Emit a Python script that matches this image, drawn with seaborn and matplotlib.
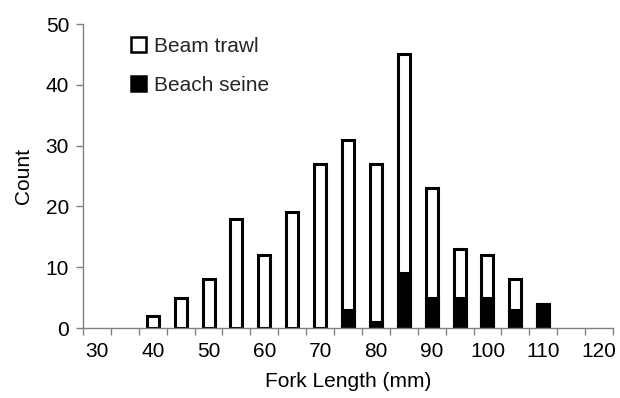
import matplotlib
matplotlib.use("Agg")
import matplotlib.pyplot as plt
import matplotlib.patches as mpatches
import seaborn as sns
import pandas as pd
import numpy as np

# Data
all_lengths = [30, 35, 40, 45, 50, 55, 60, 65, 70, 75, 80, 85, 90, 95, 100, 105, 110, 115, 120]
lengths = [40, 45, 50, 55, 60, 65, 70, 75, 80, 85, 90, 95, 100, 105, 110]
beam_trawl = [2, 5, 8, 18, 12, 19, 27, 28, 26, 36, 18, 8, 7, 5, 0]
beach_seine = [0, 0, 0, 0, 0, 0, 0, 3, 1, 9, 5, 5, 5, 3, 4]
x_tick_labels = ["30", "40", "50", "60", "70", "80", "90", "100", "110", "120"]

sns.set_theme(style="white")
plt.rcParams['font.family'] = ['Liberation Sans', 'DejaVu Sans']

df = pd.DataFrame({"length": [str(v) for v in lengths],
                   "beam": beam_trawl, "seine": beach_seine})
df["total"] = df["beam"] + df["seine"]
order = [str(v) for v in all_lengths]

FS = 15

fig = plt.figure(figsize=(6.2, 3.98), dpi=100)
ax = fig.add_axes([83/620, 1-328/398, (613-83)/620, (328-24)/398])

sns.barplot(data=df, x="length", y="total", order=order, color="white",
            edgecolor="black", linewidth=2.2, width=0.43, saturation=1, ax=ax)
seine_df = df[df["seine"] > 0]
sns.barplot(data=seine_df, x="length", y="seine", order=order, color="black",
            edgecolor="black", linewidth=2.2, width=0.43, saturation=1, ax=ax)

ax.set_xlim(-0.5, len(all_lengths) - 0.5)
ax.set_ylim(0, 50)
ax.set_yticks([0, 10, 20, 30, 40, 50])
ax.set_xticks(range(0, len(all_lengths), 2))
ax.set_xticklabels(x_tick_labels)
ax.set_xticks(np.arange(-0.5, len(all_lengths), 1), minor=True)
ax.tick_params(axis="x", which="major", length=0, labelsize=FS, pad=10, colors="black")
ax.tick_params(axis="x", which="minor", length=5, width=1, color="#808080", direction="out", bottom=True)
ax.tick_params(axis="y", length=5, width=1, color="#808080", direction="out", left=True,
               labelsize=FS, pad=5, labelcolor="black")

for s in ["top", "right"]:
    ax.spines[s].set_visible(False)
for s in ["left", "bottom"]:
    ax.spines[s].set_color("#808080")
    ax.spines[s].set_linewidth(1)

ax.set_xlabel("Fork Length (mm)", fontsize=FS, labelpad=8, color="black")
ax.set_ylabel("Count", fontsize=FS, labelpad=9, color="black")

handles = [mpatches.Patch(facecolor="white", edgecolor="black", linewidth=1.8, label="Beam trawl"),
           mpatches.Patch(facecolor="black", edgecolor="black", linewidth=1.8, label="Beach seine")]
ax.legend(handles=handles, loc="upper left", bbox_to_anchor=(0.075, 0.985), frameon=False,
          fontsize=FS, handlelength=0.72, handleheight=0.72, handletextpad=0.4,
          labelspacing=0.95, borderaxespad=0)

fig.savefig("out.png", dpi=100)
